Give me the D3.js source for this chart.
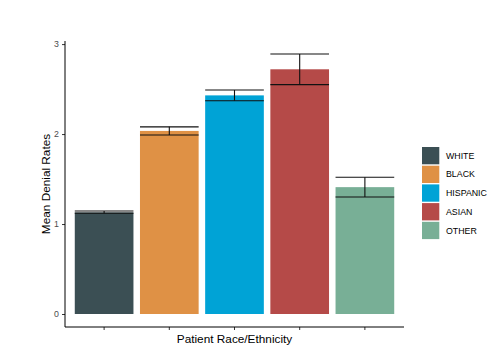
<!DOCTYPE html>
<html>
<head>
<meta charset="utf-8">
<script src="https://cdn.jsdelivr.net/npm/d3@7"></script>
<style>
  body { margin: 0; background: #fff; }
  svg { font-family: "Liberation Sans", Arial, sans-serif; }
</style>
</head>
<body>
<svg width="496" height="362"></svg>
<script>
// chart data
const groups = ['WHITE', 'BLACK', 'HISPANIC', 'ASIAN', 'OTHER'];
const means = [1.13, 2.035, 2.43, 2.72, 1.41];
const lower = [1.12, 1.99, 2.37, 2.55, 1.30];
const upper = [1.145, 2.08, 2.49, 2.89, 1.52];
const colors = ['#3b4f54', '#df9145', '#00a3d6', '#b54a48', '#78af96'];
const yTicks = [0, 1, 2, 3];

var svg = d3.select('svg');
var panel = { left: 65, right: 404, top: 41, bottom: 327 };

// ggplot-ish discrete scale: 0.6 expansion each side
var xScale = d3.scaleBand()
    .domain(groups)
    .range([panel.left, panel.right])
    .paddingInner(0.1)
    .paddingOuter(0.15);

var yScale = d3.scaleLinear()
    .domain([-0.1445, 3.0345])
    .range([panel.bottom, panel.top]);

var color = d3.scaleOrdinal().domain(groups).range(colors);

// bars
svg.append('g')
    .selectAll('rect')
    .data(groups)
    .enter()
    .append('rect')
    .attr('x', function(d) { return xScale(d); })
    .attr('width', xScale.bandwidth())
    .attr('y', function(d, i) { return yScale(means[i]); })
    .attr('height', function(d, i) { return yScale(0) - yScale(means[i]); })
    .attr('fill', function(d) { return color(d); });

// error bars
var err = svg.append('g')
    .attr('stroke', '#111')
    .attr('stroke-width', 1.1)
    .attr('fill', 'none');

groups.forEach(function(g, i) {
    var x0 = xScale(g);
    var x1 = x0 + xScale.bandwidth();
    var xm = x0 + xScale.bandwidth() / 2;
    err.append('line')
        .attr('x1', x0).attr('x2', x1)
        .attr('y1', yScale(upper[i])).attr('y2', yScale(upper[i]));
    err.append('line')
        .attr('x1', x0).attr('x2', x1)
        .attr('y1', yScale(lower[i])).attr('y2', yScale(lower[i]));
    err.append('line')
        .attr('x1', xm).attr('x2', xm)
        .attr('y1', yScale(upper[i])).attr('y2', yScale(lower[i]));
});

// y axis
var yAxis = svg.append('g')
    .attr('transform', 'translate(' + panel.left + ',0)')
    .call(d3.axisLeft(yScale).tickValues(yTicks).tickFormat(d3.format('d')).tickSize(3).tickPadding(3));
yAxis.select('.domain').remove();
yAxis.selectAll('line').attr('stroke', '#333');
yAxis.selectAll('text').attr('fill', '#4d4d4d').style('font-size', '8.8px');

// x axis
var xAxis = svg.append('g')
    .attr('transform', 'translate(0,' + panel.bottom + ')')
    .call(d3.axisBottom(xScale).tickSize(3).tickFormat(''));
xAxis.select('.domain').remove();
xAxis.selectAll('line').attr('stroke', '#333');

// axis lines
svg.append('line')
    .attr('x1', panel.left).attr('x2', panel.left)
    .attr('y1', panel.top).attr('y2', panel.bottom)
    .attr('stroke', '#000').attr('stroke-width', 1);
svg.append('line')
    .attr('x1', panel.left).attr('x2', panel.right)
    .attr('y1', panel.bottom).attr('y2', panel.bottom)
    .attr('stroke', '#000').attr('stroke-width', 1);

// axis titles
svg.append('text')
    .attr('x', (panel.left + panel.right) / 2)
    .attr('y', 343)
    .attr('text-anchor', 'middle')
    .style('font-size', '11.8px')
    .text('Patient Race/Ethnicity');

svg.append('text')
    .attr('transform', 'translate(50,' + (panel.top + panel.bottom) / 2 + ') rotate(-90)')
    .attr('text-anchor', 'middle')
    .style('font-size', '11.8px')
    .text('Mean Denial Rates');

// legend
var legend = svg.append('g')
    .attr('transform', 'translate(422,147)');

var keys = legend.selectAll('g')
    .data(groups)
    .enter()
    .append('g')
    .attr('transform', function(d, i) { return 'translate(0,' + (i * 18.7) + ')'; });

keys.append('rect')
    .attr('width', 17.3)
    .attr('height', 17.3)
    .attr('fill', function(d) { return color(d); });

keys.append('text')
    .attr('x', 24)
    .attr('y', 8.7)
    .attr('dy', '0.35em')
    .style('font-size', '8.8px')
    .text(function(d) { return d; });
</script>
</body>
</html>
